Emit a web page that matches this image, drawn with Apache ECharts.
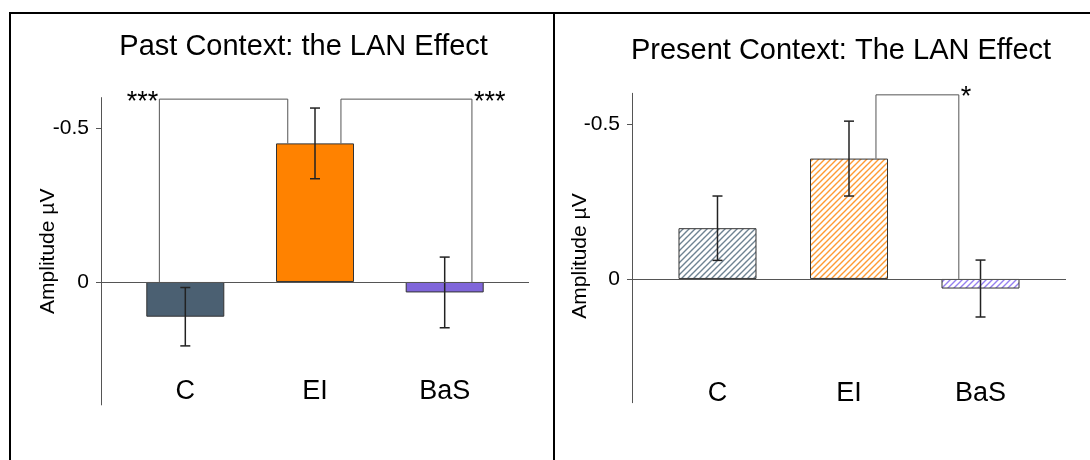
<!DOCTYPE html>
<html>
<head>
<meta charset="utf-8">
<script src="https://cdn.jsdelivr.net/npm/echarts@6/dist/echarts.min.js"></script>
<style>
  html, body { margin: 0; padding: 0; background: #fff; }
  #chart { width: 1090px; height: 460px; }
</style>
</head>
<body>
<div id="chart"></div>
<script>
// Conditions on the x axis
const categories = ['C', 'EI', 'BaS'];

// Past context: mean amplitude and error per condition (µV)
const pastMeans = [0.113, -0.451, 0.034];
const pastErrors = [0.095, 0.115, 0.115];

// Present context: mean amplitude and error per condition (µV)
const presentMeans = [-0.164, -0.389, 0.031];
const presentErrors = [0.104, 0.121, 0.092];

// Labelled ticks on the (inverted) amplitude axis
const yTickValues = [-0.5, 0];

// Significance brackets: compared conditions, bracket level and star label
const pastBrackets = [
  { from: 'C', to: 'EI', level: -0.595, label: '***' },
  { from: 'EI', to: 'BaS', level: -0.595, label: '***' }
];
const presentBrackets = [
  { from: 'EI', to: 'BaS', level: -0.595, label: '*' }
];

const pastTitle = 'Past Context: the LAN Effect';
const presentTitle = 'Present Context: The LAN Effect';
const yName = 'Amplitude µV';

const FONT = '"Liberation Sans", Arial, Helvetica, sans-serif';
const solidColors = ['#4b6072', '#ff8200', '#8066da'];
const hatchColors = ['#6e8392', '#ff9a33', '#9580f0'];

// Diagonal hatch tile used for the present-context bars
function hatch(color) {
  const c = document.createElement('canvas');
  c.width = 6; c.height = 6;
  const g = c.getContext('2d');
  g.fillStyle = '#fff';
  g.fillRect(0, 0, 6, 6);
  g.strokeStyle = color;
  g.lineWidth = 1.4;
  g.beginPath();
  g.moveTo(-1, 7); g.lineTo(7, -1);
  g.moveTo(-1, 1); g.lineTo(1, -1);
  g.moveTo(5, 7); g.lineTo(7, 5);
  g.stroke();
  return c;
}

// Where each bracket leg attaches, relative to the category centre, and where its label sits
const pastBracketGeom = [
  { offsets: [-0.2, -0.21], side: 'left' },
  { offsets: [0.2, 0.21], side: 'right' }
];
const presentBracketGeom = [
  { offsets: [0.205, -0.165], side: 'right' }
];

function barSeries(idx, means, fills) {
  return {
    type: 'bar',
    xAxisIndex: idx, yAxisIndex: idx,
    barWidth: 78,
    silent: true,
    z: 2,
    data: means.map((m, i) => ({
      value: [i + 1, m],
      itemStyle: { color: fills[i], borderColor: '#333', borderWidth: 1 }
    })),
    markLine: {
      silent: true,
      symbol: 'none',
      label: { show: false },
      lineStyle: { color: '#555', width: 1, type: 'solid' },
      data: [{ yAxis: 0 }]
    }
  };
}

function errorSeries(idx, means, errors) {
  return {
    type: 'custom',
    xAxisIndex: idx, yAxisIndex: idx,
    silent: true,
    z: 4,
    encode: { x: 0, y: 1 },
    data: means.map((m, i) => [i + 1, m, errors[i]]),
    renderItem(params, api) {
      const x = api.value(0), m = api.value(1), e = api.value(2);
      const top = api.coord([x, m - e]);
      const bot = api.coord([x, m + e]);
      const hw = 5;
      const st = { stroke: '#222', lineWidth: 1.5 };
      return {
        type: 'group',
        children: [
          { type: 'line', shape: { x1: top[0], y1: top[1], x2: bot[0], y2: bot[1] }, style: st },
          { type: 'line', shape: { x1: top[0] - hw, y1: top[1], x2: top[0] + hw, y2: top[1] }, style: st },
          { type: 'line', shape: { x1: bot[0] - hw, y1: bot[1], x2: bot[0] + hw, y2: bot[1] }, style: st }
        ]
      };
    }
  };
}

function bracketSeries(idx, brackets, means, geom) {
  return {
    type: 'custom',
    xAxisIndex: idx, yAxisIndex: idx,
    silent: true,
    z: 3,
    encode: { x: 0, y: 1 },
    data: brackets.map(b => [categories.indexOf(b.to) + 1, b.level]),
    renderItem(params, api) {
      const b = brackets[params.dataIndex];
      const g = geom[params.dataIndex];
      const i0 = categories.indexOf(b.from), i1 = categories.indexOf(b.to);
      const x0 = i0 + 1 + g.offsets[0], x1 = i1 + 1 + g.offsets[1];
      const p0 = api.coord([x0, Math.min(0, means[i0])]);
      const p0t = api.coord([x0, b.level]);
      const p1t = api.coord([x1, b.level]);
      const p1 = api.coord([x1, Math.min(0, means[i1])]);
      const left = g.side === 'left';
      return {
        type: 'group',
        children: [
          {
            type: 'polyline',
            shape: { points: [p0, p0t, p1t, p1] },
            style: { stroke: '#555', lineWidth: 1, fill: null }
          },
          {
            type: 'text',
            style: {
              text: b.label,
              x: left ? p0t[0] - 1 : p1t[0] + 2,
              y: p0t[1] + 3,
              align: left ? 'right' : 'left',
              verticalAlign: 'middle',
              font: '27px ' + FONT,
              fill: '#000'
            }
          }
        ]
      };
    }
  };
}

function yAxis(idx, gap, namePad) {
  return {
    type: 'value',
    gridIndex: idx,
    inverse: true,
    min: -0.6, max: 0.4, interval: 0.1,
    name: yName,
    nameLocation: 'middle',
    nameRotate: 90,
    nameGap: gap,
    nameMoveOverlap: false,
    nameTextStyle: { fontSize: 21, color: '#000', fontFamily: FONT, padding: namePad },
    axisLine: { show: true, lineStyle: { color: '#555', width: 1 } },
    axisTick: { show: true, length: 5, customValues: yTickValues, lineStyle: { color: '#555' } },
    axisLabel: {
      customValues: yTickValues,
      margin: 12,
      fontSize: 21,
      color: '#000',
      fontFamily: FONT,
      formatter: v => (v === 0 ? '0' : String(v))
    },
    splitLine: { show: false }
  };
}

function xAxis(idx, offset) {
  return {
    type: 'value',
    gridIndex: idx,
    min: 0.35, max: 3.65,
    position: 'bottom',
    offset: offset,
    axisLine: { show: false },
    axisTick: { show: false },
    splitLine: { show: false },
    axisLabel: {
      customValues: [1, 2, 3],
      margin: 0,
      fontSize: 27,
      color: '#000',
      fontFamily: FONT,
      formatter: v => categories[Math.round(v) - 1] || ''
    }
  };
}

const chart = echarts.init(document.getElementById('chart'), null, { renderer: 'canvas' });

chart.setOption({
  animation: false,
  backgroundColor: '#fff',
  grid: [
    { left: 101, right: 561, top: 97.6, bottom: 55.1, containLabel: false },
    { left: 632, right: 24, top: 93.3, bottom: 57.3, containLabel: false }
  ],
  xAxis: [xAxis(0, -27), xAxis(1, -23)],
  yAxis: [yAxis(0, 42, [0, 0, 0, 0]), yAxis(1, 41, [0, 16, 0, 0])],
  series: [
    barSeries(0, pastMeans, solidColors),
    bracketSeries(0, pastBrackets, pastMeans, pastBracketGeom),
    errorSeries(0, pastMeans, pastErrors),
    barSeries(1, presentMeans, hatchColors.map(c => ({ image: hatch(c), repeat: 'repeat' }))),
    bracketSeries(1, presentBrackets, presentMeans, presentBracketGeom),
    errorSeries(1, presentMeans, presentErrors)
  ],
  graphic: [
    // panel frame
    { type: 'line', silent: true, shape: { x1: 10, y1: 12, x2: 10, y2: 460 }, style: { stroke: '#000', lineWidth: 2 } },
    { type: 'line', silent: true, shape: { x1: 9, y1: 13, x2: 1090, y2: 13 }, style: { stroke: '#000', lineWidth: 2 } },
    { type: 'line', silent: true, shape: { x1: 554, y1: 12, x2: 554, y2: 460 }, style: { stroke: '#000', lineWidth: 2 } },
    // panel titles
    {
      type: 'text', silent: true,
      style: { text: pastTitle, x: 303.6, y: 47, align: 'center', verticalAlign: 'middle', font: '29px ' + FONT, fill: '#000' }
    },
    {
      type: 'text', silent: true,
      style: { text: presentTitle, x: 841, y: 50.5, align: 'center', verticalAlign: 'middle', font: '29px ' + FONT, fill: '#000' }
    }
  ]
});
</script>
</body>
</html>
